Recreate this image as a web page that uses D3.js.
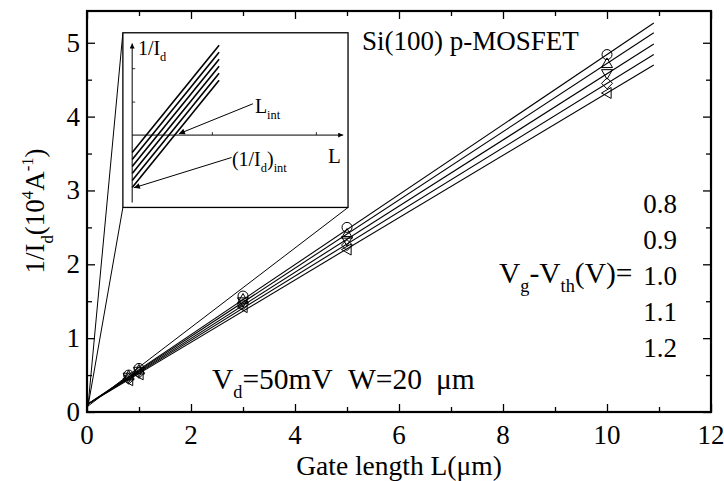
<!DOCTYPE html>
<html>
<head>
<meta charset="utf-8">
<script src="https://cdn.jsdelivr.net/npm/d3@7"></script>
<style>
  html, body { margin: 0; padding: 0; background: #fff; }
  svg { display: block; }
  text { font-family: "Liberation Serif", "Times New Roman", Times, serif; fill: #000; }
</style>
</head>
<body>
<svg id="chart" width="724" height="481"></svg>
<script>
// Gate lengths (µm) at which 1/Id was measured
const gateLengths = [0.8, 1, 3, 5, 10];
// Gate overdrive labels Vg - Vth (V)
const overdrives = ["0.8", "0.9", "1.0", "1.1", "1.2"];
// 1/Id (10^4 A^-1) for each overdrive
const inv08 = [0.50, 0.59, 1.57, 2.50, 4.84];
const inv09 = [0.49, 0.57, 1.53, 2.41, 4.72];
const inv10 = [0.47, 0.55, 1.49, 2.32, 4.58];
const inv11 = [0.45, 0.53, 1.46, 2.26, 4.45];
const inv12 = [0.43, 0.51, 1.42, 2.20, 4.32];
// Linear fits 1/Id = a + b*L
const fitIntercept = [0.10, 0.10, 0.10, 0.10, 0.10];
const fitSlope = [0.474, 0.462, 0.448, 0.435, 0.422];
const fitRange = [0, 10.9];
// Axis ticks
const xMajorTicks = [0, 2, 4, 6, 8, 10, 12];
const xMinorTicks = [1, 3, 5, 7, 9, 11];
const yMajorTicks = [0, 1, 2, 3, 4, 5];
const yMinorTicks = [0.5, 1.5, 2.5, 3.5, 4.5];
// Schematic inset: family of parallel lines 1/Id vs L
const sketchIntercepts = [-0.87, -1.22, -1.57, -1.92, -2.27, -2.62];
const sketchSlope = 1.30;
const sketchEnd = 4.12;

const series = [inv08, inv09, inv10, inv11, inv12];
const symbols = ["circle", "up", "down", "diamond", "left"];

const svg = d3.select("#chart");
const x = d3.scaleLinear().domain([0, 12]).range([87, 711]);
const y = d3.scaleLinear().domain([0, 5.43]).range([412, 11]);

function label(g, px, py, parts, size, anchor, rotate) {
  const t = g.append("text")
    .attr("transform", rotate ? `translate(${px},${py}) rotate(-90)` : `translate(${px},${py})`)
    .attr("font-size", size)
    .attr("text-anchor", anchor || "start");
  let shift = 0;
  parts.forEach(([s, kind, dx]) => {
    const target = kind === "sub" ? size * 0.32 : kind === "sup" ? -size * 0.42 : 0;
    const ts = t.append("tspan")
      .attr("dy", target - shift)
      .attr("font-size", kind ? size * 0.62 : size)
      .text(s);
    if (dx) ts.attr("dx", dx);
    shift = target;
  });
  return t;
}

// Fit lines
const fits = svg.append("g");
fitSlope.forEach((b, i) => {
  fits.append("line")
    .attr("x1", x(fitRange[0])).attr("y1", y(fitIntercept[i] + b * fitRange[0]))
    .attr("x2", x(fitRange[1])).attr("y2", y(fitIntercept[i] + b * fitRange[1]))
    .attr("stroke", "#000").attr("stroke-width", 1.1);
});

// Inset box in data units and connector lines to the origin
const insetL = [0.69, 5.02], insetV = [2.77, 5.135];
const origin = [0.02, 0.08];
const conn = svg.append("g");
[[insetL[0], insetV[1]], [insetL[0], insetV[0]], [insetL[1], insetV[0]]].forEach(c => {
  conn.append("line")
    .attr("x1", x(origin[0])).attr("y1", y(origin[1]))
    .attr("x2", x(c[0])).attr("y2", y(c[1]))
    .attr("stroke", "#000").attr("stroke-width", 1);
});

// Markers
function symbolPath(kind, cx, cy) {
  const r = 5.5;
  switch (kind) {
    case "up": return `M${cx},${cy - r}L${cx + r},${cy + r * 0.75}L${cx - r},${cy + r * 0.75}Z`;
    case "down": return `M${cx},${cy + r}L${cx + r},${cy - r * 0.75}L${cx - r},${cy - r * 0.75}Z`;
    case "diamond": return `M${cx},${cy - r}L${cx + r},${cy}L${cx},${cy + r}L${cx - r},${cy}Z`;
    case "left": return `M${cx - r},${cy}L${cx + r * 0.75},${cy - r}L${cx + r * 0.75},${cy + r}Z`;
  }
  return "";
}
const marks = svg.append("g");
series.forEach((vals, i) => {
  vals.forEach((v, j) => {
    const cx = x(gateLengths[j]), cy = y(v);
    if (symbols[i] === "circle") {
      marks.append("circle").attr("cx", cx).attr("cy", cy).attr("r", 5)
        .attr("fill", "none").attr("stroke", "#000").attr("stroke-width", 1);
    } else {
      marks.append("path").attr("d", symbolPath(symbols[i], cx, cy))
        .attr("fill", "none").attr("stroke", "#000").attr("stroke-width", 1);
    }
  });
});

// Inset
const bx0 = x(insetL[0]), bx1 = x(insetL[1]), by0 = y(insetV[1]), by1 = y(insetV[0]);
const inset = svg.append("g");
inset.append("rect").attr("x", bx0).attr("y", by0).attr("width", bx1 - bx0).attr("height", by1 - by0)
  .attr("fill", "#fff").attr("stroke", "#000").attr("stroke-width", 1.3);
const sx = d3.scaleLinear().domain([0, 10]).range([bx0 + 9.3, bx0 + 220.3]);
const sy = d3.scaleLinear().domain([0, 1]).range([by0 + 102.3, by0 + 82.3]);
const defs = svg.append("defs");
defs.append("marker").attr("id", "ah").attr("viewBox", "0 0 10 10").attr("refX", 10).attr("refY", 5)
  .attr("markerWidth", 9).attr("markerHeight", 5).attr("orient", "auto").attr("markerUnits", "userSpaceOnUse")
  .append("path").attr("d", "M0,0L10,5L0,10Z").attr("fill", "#000");
defs.append("marker").attr("id", "ah2").attr("viewBox", "0 0 10 10").attr("refX", 10).attr("refY", 5)
  .attr("markerWidth", 14).attr("markerHeight", 6).attr("orient", "auto").attr("markerUnits", "userSpaceOnUse")
  .append("path").attr("d", "M0,0L10,5L0,10Z").attr("fill", "#000");
// schematic axes
inset.append("line").attr("x1", sx(0)).attr("y1", sy(-3.37)).attr("x2", sx(0)).attr("y2", sy(4.58))
  .attr("stroke", "#000").attr("stroke-width", 1).attr("marker-end", "url(#ah)");
inset.append("line").attr("x1", sx(0)).attr("y1", sy(0)).attr("x2", sx(10)).attr("y2", sy(0))
  .attr("stroke", "#000").attr("stroke-width", 1).attr("marker-end", "url(#ah)");
[1.65, 3.32].forEach(v => inset.append("line").attr("x1", sx(0)).attr("x2", sx(0) + 3)
  .attr("y1", sy(v)).attr("y2", sy(v)).attr("stroke", "#000").attr("stroke-width", 0.8));
[3.8, 8.73].forEach(u => inset.append("line").attr("x1", sx(u)).attr("x2", sx(u))
  .attr("y1", sy(0)).attr("y2", sy(0) - 3).attr("stroke", "#000").attr("stroke-width", 0.8));
sketchIntercepts.forEach(a => {
  inset.append("line")
    .attr("x1", sx(0)).attr("y1", sy(a))
    .attr("x2", sx(sketchEnd)).attr("y2", sy(a + sketchSlope * sketchEnd))
    .attr("stroke", "#000").attr("stroke-width", 1.6);
});
// annotation arrows
inset.append("line").attr("x1", bx0 + 130).attr("y1", by0 + 71).attr("x2", bx0 + 56).attr("y2", by0 + 101)
  .attr("stroke", "#000").attr("stroke-width", 1).attr("marker-end", "url(#ah2)");
inset.append("line").attr("x1", bx0 + 108.7).attr("y1", by0 + 124.7).attr("x2", bx0 + 11).attr("y2", by0 + 155)
  .attr("stroke", "#000").attr("stroke-width", 1).attr("marker-end", "url(#ah2)");
label(inset, bx0 + 15, by0 + 22, [["1/I"], ["d", "sub"]], 20);
label(inset, bx0 + 132, by0 + 80, [["L"], ["int", "sub"]], 20);
label(inset, bx0 + 205, by0 + 130, [["L"]], 21);
label(inset, bx0 + 109, by0 + 133, [["(1/I"], ["d", "sub"], [")"], ["int", "sub"]], 20);

// Axes frame and ticks
const axes = svg.append("g");
function tickAxis(axis, transform) {
  const g = axes.append("g").attr("transform", transform).call(axis);
  g.selectAll("text").remove();
  g.select(".domain").remove();
  g.selectAll("line").attr("stroke", "#000").attr("stroke-width", 1.3);
}
tickAxis(d3.axisBottom(x).tickValues(xMajorTicks).tickSize(-8), `translate(0,${y(0)})`);
tickAxis(d3.axisBottom(x).tickValues(xMinorTicks).tickSize(-5), `translate(0,${y(0)})`);
tickAxis(d3.axisTop(x).tickValues(xMajorTicks).tickSize(-8), `translate(0,${y(5.43)})`);
tickAxis(d3.axisTop(x).tickValues(xMinorTicks).tickSize(-5), `translate(0,${y(5.43)})`);
tickAxis(d3.axisLeft(y).tickValues(yMajorTicks).tickSize(-8), `translate(${x(0)},0)`);
tickAxis(d3.axisLeft(y).tickValues(yMinorTicks).tickSize(-5), `translate(${x(0)},0)`);
tickAxis(d3.axisRight(y).tickValues(yMajorTicks).tickSize(-8), `translate(${x(12)},0)`);
tickAxis(d3.axisRight(y).tickValues(yMinorTicks).tickSize(-5), `translate(${x(12)},0)`);
axes.append("rect").attr("x", x(0)).attr("y", y(5.43)).attr("width", x(12) - x(0)).attr("height", y(0) - y(5.43))
  .attr("fill", "none").attr("stroke", "#000").attr("stroke-width", 2.2);

// Tick labels
const labels = svg.append("g");
xMajorTicks.forEach(v => label(labels, x(v), 444, [[String(v)]], 27, "middle"));
yMajorTicks.forEach(v => label(labels, 80, y(v) + 9, [[String(v)]], 27, "end"));

// Axis titles
label(labels, x(6), 475, [["Gate length L(\u03bcm)"]], 27.5, "middle");
label(labels, 44, 211, [["1/I"], ["d", "sub"], ["(10"], ["4", "sup"], ["A"], ["-1", "sup"], [")"]], 27, "middle", true);

// Annotations
label(labels, 362, 50, [["Si(100) p-MOSFET"]], 27);
const legendBase = [213, 249, 285, 321, 357];
overdrives.forEach((s, i) => label(labels, 677, legendBase[i], [[s]], 27, "end"));
label(labels, 499, 283, [["V"], ["g", "sub"], ["-V"], ["th", "sub"], ["(V)="]], 29.5);
label(labels, 212, 389, [["V"], ["d", "sub"], ["=50mV"]], 29.5);
label(labels, 348, 389, [["W=20"], ["\u03bcm", null, 14]], 29.5);
</script>
</body>
</html>
